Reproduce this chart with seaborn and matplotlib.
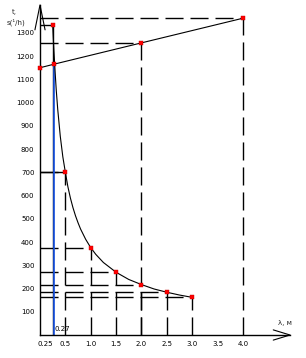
import matplotlib
matplotlib.use("Agg")
import matplotlib.pyplot as plt
import seaborn as sns
import pandas as pd

# ---- data ----
curve_x = [0.25, 0.27, 0.30, 0.32, 0.35, 0.40, 0.45, 0.50, 0.55, 0.60, 0.65, 0.70, 0.75, 0.80, 0.90,
           1.00, 1.10, 1.25, 1.50, 1.75, 2.00, 2.25, 2.50, 2.75, 3.00]
curve_y = [1335, 1240, 1125, 1055, 970, 855, 767, 700, 638, 589, 548, 513, 483, 456, 412,
           376, 347, 312, 270, 239, 217, 198, 184, 172, 162]

line_x = [0.0, 0.27, 2.0, 4.0]
line_y = [1150, 1165, 1257, 1363]

curve_pts_x = [0.25, 0.5, 1.0, 1.5, 2.0, 2.5, 3.0]
curve_pts_y = [1335, 700, 376, 270, 217, 184, 162]

# dashed guide lines to points (x, y)
guide_dashed = [(0.5, 700), (1.0, 376), (1.5, 270), (2.0, 217), (2.5, 184), (3.0, 162),
                (2.0, 1257), (4.0, 1363)]
blue_x, blue_top = 0.27, 1165

x_ticks = [0.25, 0.5, 1.0, 1.5, 2.0, 2.5, 3.0, 3.5, 4.0]
x_tick_labels = ["0.25", "0.5", "1.0", "1.5", "2.0", "2.5", "3.0", "3.5", "4.0"]
y_ticks = [100, 200, 300, 400, 500, 600, 700, 800, 900, 1000, 1100, 1200, 1300]

sns.set_theme(style="white")
plt.rcParams['font.family'] = ['DejaVu Sans']

W, H = 306, 358
fig = plt.figure(figsize=(W / 100, H / 100), dpi=100)
ax = fig.add_axes([40 / W, 23 / H, 250 / W, 330 / H])
XMAX, YMAX = 4.93, 1420
ax.set_xlim(0, XMAX)
ax.set_ylim(0, YMAX)

dash = (0, (13, 5))
lw = 1.0

for gx, gy in guide_dashed:
    ax.plot([0, gx], [gy, gy], color="black", lw=lw, linestyle=dash)
    ax.plot([gx, gx], [0, gy], color="black", lw=lw, linestyle=dash)

ax.plot([0, 0.25], [1335, 1335], color="black", lw=lw)
ax.plot([0.25, 0.25], [0, 1335], color="black", lw=lw)
ax.plot([0, 0.5], [700, 700], color="black", lw=lw)
ax.plot([blue_x, blue_x], [0, blue_top], color="#1a56e8", lw=1.2)

df_curve = pd.DataFrame({"x": curve_x, "y": curve_y})
df_line = pd.DataFrame({"x": line_x, "y": line_y})
sns.lineplot(data=df_curve, x="x", y="y", ax=ax, color="black", lw=0.8, sort=False)
sns.lineplot(data=df_line, x="x", y="y", ax=ax, color="black", lw=0.8, sort=False)

df_pts = pd.DataFrame({"x": curve_pts_x + line_x, "y": curve_pts_y + line_y})
sns.scatterplot(data=df_pts, x="x", y="y", ax=ax, color="red", marker="s", s=6,
                edgecolor="#c00000", linewidth=0.3, zorder=5, clip_on=False)

ax.text(0.29, 12, "0.27", fontsize=5, color="black", ha="left", va="bottom")

for s in ["top", "right"]:
    ax.spines[s].set_visible(False)
for s in ["left", "bottom"]:
    ax.spines[s].set_color("black")
    ax.spines[s].set_linewidth(1.0)

ax.set_xticks(x_ticks)
ax.set_xticklabels(x_tick_labels, fontsize=5)
for lab in ax.get_xticklabels():
    if lab.get_text() == "0.25":
        lab.set_horizontalalignment("right")
ax.set_yticks(y_ticks)
ax.set_yticklabels([str(v) for v in y_ticks], fontsize=5)
ax.tick_params(axis="x", direction="in", length=3, width=0.8, pad=4, colors="black")
ax.tick_params(axis="y", direction="out", length=3, width=0.8, pad=1, colors="black")
ax.set_xlabel("")
ax.set_ylabel("")

# arrowheads
ax.plot([-0.1, 0, 0.1], [1313, YMAX, 1313], color="black", lw=0.8, clip_on=False)
ax.plot([XMAX - 0.33, XMAX, XMAX - 0.33], [22, 0, -22], color="black", lw=0.8, clip_on=False)

fig.text(14 / W, 1 - 12 / H, "t,", fontsize=5, ha="center", va="center")
fig.text(16 / W, 1 - 22 / H, "s(¹/h)", fontsize=5, ha="center", va="center")
fig.text(285 / W, 1 - 323 / H, "λ, м", fontsize=5, ha="center", va="center")

fig.savefig("out.png", dpi=100, facecolor="white")
